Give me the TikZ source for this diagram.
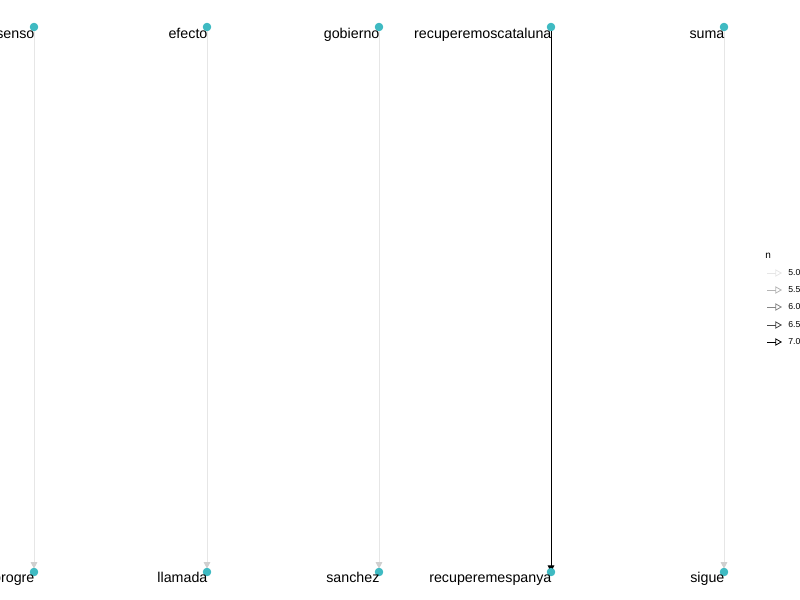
\documentclass[tikz,border=0pt]{standalone}
\usepackage{fontspec}
\setmainfont{Liberation Sans}
\usetikzlibrary{arrows.meta}
\definecolor{dotc}{HTML}{3FBAC2}
\definecolor{e50}{HTML}{E6E6E6}
\definecolor{headc}{HTML}{CFCFCF}
\definecolor{e55}{HTML}{B5B5B5}
\definecolor{e60}{HTML}{858585}
\definecolor{e65}{HTML}{474747}
\definecolor{e70}{HTML}{000000}
\tikzset{
  dot/.style={circle,fill=dotc,inner sep=0pt,minimum size=6.2pt},
  lbl/.style={anchor=base east,inner sep=0pt,font=\fontsize{10.7pt}{12pt}\selectfont,xshift=0.5pt},
  edge/.style={line width=0.7pt,-{Triangle[length=5pt,width=5pt,fill=headc,color=headc]}},
  strong/.style={line width=0.75pt,-{Triangle[length=5pt,width=5pt]}},
  leg/.style={line width=0.6pt,-{Triangle[open,length=5pt,width=5.5pt]}},
  legtxt/.style={anchor=west,inner sep=0pt,font=\fontsize{6.5pt}{7pt}\selectfont}
}
\begin{document}
\begin{tikzpicture}[x=0.75pt,y=-0.75pt]
\useasboundingbox (0,0) rectangle (800,600);
% top nodes
\node[dot] (t1) at (34,27) {};
\node[dot] (t2) at (207,27) {};
\node[dot] (t3) at (379,27) {};
\node[dot] (t4) at (551,27) {};
\node[dot] (t5) at (724,27) {};
% bottom nodes
\node[dot] (b1) at (34,572) {};
\node[dot] (b2) at (207,572) {};
\node[dot] (b3) at (379,572) {};
\node[dot] (b4) at (551,572) {};
\node[dot] (b5) at (724,572) {};
% edges
\draw[edge,e50] (t1.center) -- ([yshift=2.5pt]b1.center);
\draw[edge,e50] (t2.center) -- ([yshift=2.5pt]b2.center);
\draw[edge,e50] (t3.center) -- ([yshift=2.5pt]b3.center);
\draw[edge,e50] (t5.center) -- ([yshift=2.5pt]b5.center);
\draw[strong,black] (t4.center) -- (b4.center);
% redraw dots on top
\foreach \n in {t1,t2,t3,t4,t5,b1,b2,b3,b4,b5} \fill[dotc] (\n) circle (3.1pt);
% labels
\node[lbl] (l1) at ([yshift=-8.3pt]t1.center) {senso};
\node[lbl] (l2) at ([yshift=-8.3pt]t2.center) {efecto};
\node[lbl] (l3) at ([yshift=-8.3pt]t3.center) {gobierno};
\node[lbl] (l4) at ([yshift=-8.3pt]t4.center) {recuperemoscataluna};
\node[lbl] (l5) at ([yshift=-8.3pt]t5.center) {suma};
\node[lbl] (m1) at ([yshift=-7.8pt]b1.center) {progre};
\node[lbl] (m2) at ([yshift=-7.8pt]b2.center) {llamada};
\node[lbl] (m3) at ([yshift=-7.8pt]b3.center) {sanchez};
\node[lbl] (m4) at ([yshift=-7.8pt]b4.center) {recuperemespanya};
\node[lbl] (m5) at ([yshift=-7.8pt]b5.center) {sigue};
% legend
\node[anchor=west,inner sep=0pt,font=\fontsize{7.5pt}{8pt}\selectfont] (lt) at (765,256) {n};
\coordinate (a1) at (767,273); \coordinate (c1) at (782,273);
\coordinate (a2) at (767,290); \coordinate (c2) at (782,290);
\coordinate (a3) at (767,307); \coordinate (c3) at (782,307);
\coordinate (a4) at (767,325); \coordinate (c4) at (782,325);
\coordinate (a5) at (767,342); \coordinate (c5) at (782,342);
\draw[leg,e50] (a1) -- (c1);
\draw[leg,e55] (a2) -- (c2);
\draw[leg,e60] (a3) -- (c3);
\draw[leg,e65] (a4) -- (c4);
\draw[leg,e70] (a5) -- (c5);
\node[legtxt] (n1) at (788,273) {5.0};
\node[legtxt] (n2) at (788,290) {5.5};
\node[legtxt] (n3) at (788,307) {6.0};
\node[legtxt] (n4) at (788,325) {6.5};
\node[legtxt] (n5) at (788,342) {7.0};
\end{tikzpicture}
\end{document}
